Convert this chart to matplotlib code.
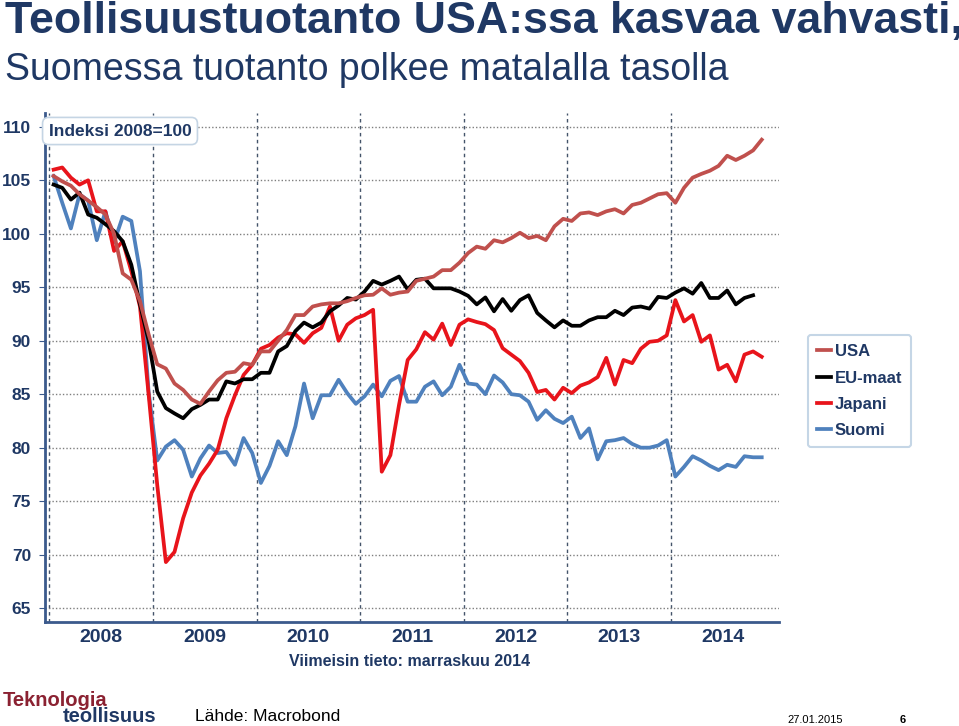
import matplotlib.pyplot as plt
import numpy as np

# monthly index values, Jan 2008 onwards (2008=100)
usa = [105.4, 104.9, 104.5, 103.7, 103.1, 102.5, 101.8, 100.0, 96.3, 95.7, 93.7, 90.6,
       87.8, 87.4, 86.0, 85.4, 84.5, 84.1, 85.25, 86.3, 87.0, 87.1, 87.9, 87.75,
       89.0, 89.0, 90.0, 91.0, 92.4, 92.4, 93.2, 93.4, 93.5, 93.5, 93.7, 94.0,
       94.25, 94.3, 94.9, 94.3, 94.5, 94.6, 95.6, 95.8, 96.0, 96.6, 96.6, 97.3,
       98.2, 98.8, 98.6, 99.4, 99.2, 99.6, 100.1, 99.6, 99.8, 99.4, 100.7, 101.4,
       101.2, 101.9, 102.0, 101.75, 102.1, 102.3, 101.9, 102.7, 102.9, 103.3, 103.7, 103.8,
       102.9, 104.3, 105.25, 105.6, 105.9, 106.35, 107.3, 106.9, 107.3, 107.8, 108.8]
eu = [104.6, 104.3, 103.2, 103.85, 101.8, 101.5, 100.9, 100.25, 99.3, 97.1, 93.4, 90.0,
      85.25, 83.7, 83.2, 82.75, 83.6, 84.0, 84.5, 84.5, 86.2, 86.0, 86.4, 86.4,
      87.0, 87.0, 89.0, 89.5, 90.9, 91.7, 91.25, 91.7, 92.75, 93.3, 94.0, 93.85,
      94.6, 95.6, 95.25, 95.6, 96.0, 94.8, 95.7, 95.8, 94.9, 94.9, 94.9, 94.6,
      94.2, 93.4, 94.05, 92.75, 93.9, 92.8, 93.8, 94.25, 92.6, 91.9, 91.25, 91.9,
      91.4, 91.4, 91.9, 92.2, 92.2, 92.8, 92.4, 93.1, 93.2, 93.0, 94.1, 94.0,
      94.5, 94.9, 94.4, 95.4, 94.0, 94.0, 94.7, 93.4, 94.0, 94.25]
japani = [106.0, 106.2, 105.25, 104.6, 105.0, 102.1, 102.1, 98.4, 99.3, 96.5, 93.2, 85.0,
          76.5, 69.3, 70.25, 73.4, 75.8, 77.4, 78.5, 79.8, 82.75, 84.9, 86.8, 87.75,
          89.25, 89.6, 90.3, 90.7, 90.6, 89.8, 90.7, 91.2, 93.2, 90.0, 91.5, 92.1,
          92.4, 92.9, 77.75, 79.3, 84.0, 88.2, 89.2, 90.8, 90.1, 91.6, 89.6, 91.5,
          92.0, 91.75, 91.55, 91.0, 89.3, 88.7, 88.1, 87.0, 85.2, 85.4, 84.5, 85.6,
          85.1, 85.8, 86.1, 86.6, 88.4, 85.9, 88.2, 87.9, 89.25, 89.9, 90.0, 90.5,
          93.8, 91.8, 92.4, 89.9, 90.5, 87.3, 87.75, 86.2, 88.7, 89.0, 88.5]
suomi = [105.4, 102.9, 100.5, 103.7, 103.1, 99.4, 102.1, 99.2, 101.6, 101.2, 96.5, 85.25,
         78.8, 80.1, 80.7, 79.8, 77.3, 79.0, 80.2, 79.5, 79.6, 78.4, 80.9, 79.5,
         76.7, 78.3, 80.6, 79.3, 82.0, 86.0, 82.75, 84.9, 84.9, 86.35, 85.1, 84.1,
         84.8, 85.9, 84.8, 86.25, 86.7, 84.3, 84.3, 85.7, 86.2, 84.9, 85.7, 87.75,
         86.0, 85.9, 85.0, 86.75, 86.1, 85.0, 84.9, 84.3, 82.6, 83.5, 82.7, 82.3,
         82.9, 80.9, 81.8, 78.9, 80.6, 80.7, 80.9, 80.35, 80.0, 80.0, 80.2, 80.7,
         77.3, 78.2, 79.2, 78.8, 78.3, 77.9, 78.4, 78.2, 79.2, 79.1, 79.1]
years = ['2008', '2009', '2010', '2011', '2012', '2013', '2014']
series_names = ['USA', 'EU-maat', 'Japani', 'Suomi']

navy = '#1F3864'
font = 'Liberation Sans'

fig = plt.figure(figsize=(9.59, 7.26), dpi=100)
fig.patch.set_facecolor('white')

ax = fig.add_axes([0.0469, 0.1433, 0.7654, 0.7011])

colors = {'USA': '#C0504D', 'EU-maat': '#000000', 'Japani': '#E8141B', 'Suomi': '#4F81BD'}
data = {'USA': usa, 'EU-maat': eu, 'Japani': japani, 'Suomi': suomi}

# draw order: Suomi, Japani, EU, USA
for name in ['Suomi', 'Japani', 'EU-maat', 'USA']:
    vals = data[name]
    x = np.arange(len(vals)) + 0.5
    ax.plot(x, vals, color=colors[name], lw=2.7, solid_joinstyle='round', label=name, zorder=3)

ax.set_xlim(-0.5, 84.5)
ax.set_ylim(63.7, 111.3)

ax.set_yticks(range(65, 111, 5))
ax.set_xticks(range(0, 73, 12))
ax.set_xticklabels([])
ax.set_xticks(np.arange(6, 84, 12), minor=True)
ax.set_xticklabels(years, minor=True)

ax.grid(axis='y', linestyle=(0, (1, 1.5)), color='#7F7F7F', lw=1)
ax.grid(axis='x', which='major', linestyle=(0, (2.5, 2.5)), color='#44546A', lw=1)

for s in ['top', 'right']:
    ax.spines[s].set_visible(False)
for s in ['left', 'bottom']:
    ax.spines[s].set_color('#3B5A8C')
    ax.spines[s].set_linewidth(2)

ax.tick_params(axis='x', which='both', length=0, pad=5)
ax.tick_params(axis='y', length=4, color='#3B5A8C', pad=6)
for lab in ax.get_yticklabels():
    lab.set_fontfamily(font)
    lab.set_fontweight('bold')
    lab.set_fontsize(12.5)
    lab.set_color(navy)
for lab in ax.get_xticklabels(minor=True):
    lab.set_fontfamily(font)
    lab.set_fontweight('bold')
    lab.set_fontsize(14)
    lab.set_color(navy)

# titles
fig.text(0.005, 1 - 33 / 726, 'Teollisuustuotanto USA:ssa kasvaa vahvasti,',
         fontsize=32.2, fontweight='bold', color=navy, family=font, va='baseline')
fig.text(0.005, 1 - 80 / 726, 'Suomessa tuotanto polkee matalalla tasolla',
         fontsize=27, color=navy, family=font, va='baseline')

# index box
fig.text(120 / 959, 1 - 131 / 726, 'Indeksi 2008=100', ha='center', va='center',
         fontsize=12.5, fontweight='bold', color=navy, family=font,
         bbox=dict(boxstyle='round,pad=0.35', fc='white', ec='#C5D5E4', lw=1.2), zorder=5)

# legend
handles, labels = ax.get_legend_handles_labels()
order = [labels.index(n) for n in series_names]
leg = fig.legend([handles[i] for i in order], [labels[i] for i in order],
                 loc='upper left', bbox_to_anchor=(808 / 959, 1 - 335 / 726),
                 borderaxespad=0, handlelength=0.8, handletextpad=0.25,
                 labelspacing=0.68, borderpad=0.55, fancybox=True,
                 prop={'family': font, 'weight': 'bold', 'size': 12})
leg.get_frame().set_edgecolor('#B7CCE0')
leg.get_frame().set_linewidth(1.5)
for t in leg.get_texts():
    t.set_color(navy)

fig.text(410 / 959, 1 - 661 / 726, 'Viimeisin tieto: marraskuu 2014', ha='center', va='center',
         fontsize=11.5, fontweight='bold', color=navy, family=font)

# footer
fig.text(3 / 959, 1 - 706 / 726, 'Teknologia', fontsize=14.5, fontweight='bold',
         color='#8B2232', family=font, va='baseline')
fig.text(63 / 959, 1 - 722 / 726, 'teollisuus', fontsize=14.5, fontweight='bold',
         color=navy, family=font, va='baseline')
fig.text(195 / 959, 1 - 721 / 726, 'Lähde: Macrobond', fontsize=12.5,
         color='black', family=font, va='baseline')
fig.text(815 / 959, 1 - 720 / 726, '27.01.2015', fontsize=8, ha='center', va='center',
         color='black', family=font)
fig.text(903 / 959, 1 - 720 / 726, '6', fontsize=8, fontweight='bold', ha='center', va='center',
         color='black', family=font)

fig.savefig('out.png', dpi=100)
